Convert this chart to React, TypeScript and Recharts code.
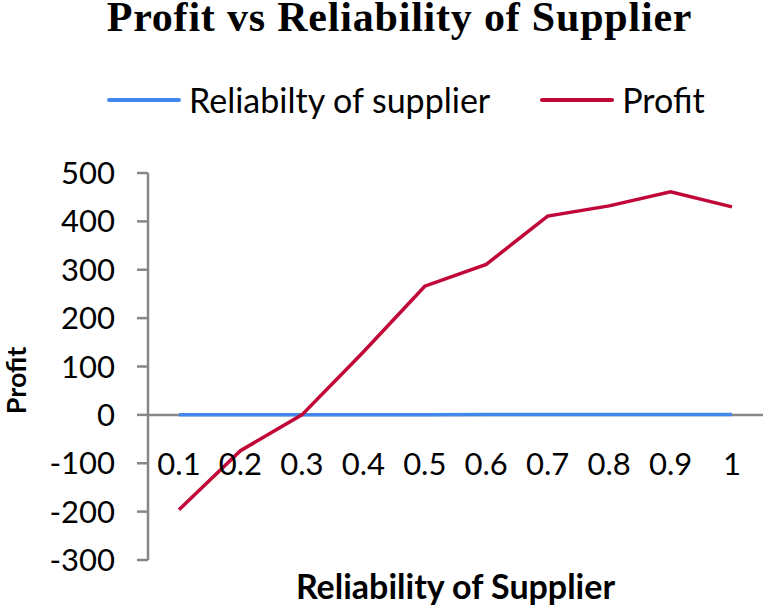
import React from "react";
import { Label, Line, LineChart, ReferenceLine, XAxis, YAxis } from "recharts";

// valores
const reliability = ["0.1", "0.2", "0.3", "0.4", "0.5", "0.6", "0.7", "0.8", "0.9", "1"];
const reliabilityValues = [0.1, 0.2, 0.3, 0.4, 0.5, 0.6, 0.7, 0.8, 0.9, 1];
const profit = [-196, -74, 0, 130, 266, 311, 411, 432, 461, 430];
const yTicks = [-300, -200, -100, 0, 100, 200, 300, 400, 500];

const BLUE = "#4287EC";
const RED = "#C10638";
const GRAY = "#878787";
const SANS = "Lato, 'Open Sans', sans-serif";

const data = reliability.map((x, i) => ({
  x,
  rel: reliabilityValues[i],
  profit: profit[i],
}));

const legendItems = [
  { name: "Reliabilty of supplier", color: BLUE },
  { name: "Profit", color: RED },
];

function XTick({ x, y, payload }: any) {
  return (
    <text
      x={x}
      y={y}
      dy={-97}
      textAnchor="middle"
      dominantBaseline="central"
      fontFamily={SANS}
      fontSize={31}
      fill="#000"
    >
      {payload.value}
    </text>
  );
}

export default function App() {
  return (
    <div
      style={{
        position: "relative",
        width: 763,
        height: 608,
        background: "#fff",
        overflow: "hidden",
      }}
    >
      <style>{`body{margin:0}`}</style>
      <div
        style={{
          position: "absolute",
          top: 0,
          left: 18,
          width: 763,
          textAlign: "center",
          fontFamily: "'Liberation Serif', 'Times New Roman', serif",
          fontWeight: 700,
          fontSize: 42,
          letterSpacing: 0.8,
          lineHeight: "34px",
          whiteSpace: "nowrap",
        }}
      >
        Profit vs Reliability of Supplier
      </div>
      <div
        style={{
          position: "absolute",
          top: 83,
          left: 107,
          display: "flex",
          alignItems: "center",
          fontFamily: SANS,
          fontSize: 34,
          lineHeight: "34px",
          whiteSpace: "nowrap",
        }}
      >
        {legendItems.map((it, i) => (
          <div
            key={it.name}
            style={{ display: "flex", alignItems: "center", marginLeft: i ? 50 : 0 }}
          >
            <span
              style={{
                display: "inline-block",
                width: 74,
                height: 4,
                borderRadius: 2,
                background: it.color,
                marginRight: 8,
              }}
            />
            <span>{it.name}</span>
          </div>
        ))}
      </div>
      <LineChart
        width={763}
        height={608}
        data={data}
        margin={{ top: 173, right: 0, left: 0, bottom: 0 }}
        style={{ position: "absolute", top: 0, left: 0 }}
      >
        <XAxis
          dataKey="x"
          height={48}
          padding={{ left: 31, right: 31 }}
          axisLine={false}
          tickLine={false}
          tickSize={0}
          tickMargin={0}
          interval={0}
          tick={<XTick />}
        >
          <Label
            content={({ viewBox }: any) => (
              <text
                x={viewBox.x + viewBox.width / 2}
                y={viewBox.y + viewBox.height - 9}
                textAnchor="middle"
                fontFamily={SANS}
                fontWeight={700}
                fontSize={34}
                fill="#000"
              >
                Reliability of Supplier
              </text>
            )}
          />
        </XAxis>
        <YAxis
          width={148}
          domain={[-300, 500]}
          ticks={yTicks}
          interval={0}
          axisLine={{ stroke: GRAY, strokeWidth: 2.5 }}
          tickLine={{ stroke: GRAY, strokeWidth: 2.5 }}
          tickSize={11}
          tickMargin={22}
          tick={{ fontFamily: SANS, fontSize: 31, fill: "#000" }}
        >
          <Label
            content={({ viewBox }: any) => {
              const cx = viewBox.x + 15;
              const cy = viewBox.y + viewBox.height / 2 + 14;
              return (
                <text
                  x={cx}
                  y={cy}
                  transform={`rotate(-90, ${cx}, ${cy})`}
                  textAnchor="middle"
                  dominantBaseline="central"
                  fontFamily={SANS}
                  fontWeight={700}
                  fontSize={27}
                  fill="#000"
                >
                  Profit
                </text>
              );
            }}
          />
        </YAxis>
        <ReferenceLine y={0} stroke={GRAY} strokeWidth={2.5} />
        <Line
          type="linear"
          dataKey="rel"
          name="Reliabilty of supplier"
          stroke={BLUE}
          strokeWidth={3.5}
          dot={false}
          isAnimationActive={false}
        />
        <Line
          type="linear"
          dataKey="profit"
          name="Profit"
          stroke={RED}
          strokeWidth={3.5}
          dot={false}
          isAnimationActive={false}
        />
      </LineChart>
    </div>
  );
}
